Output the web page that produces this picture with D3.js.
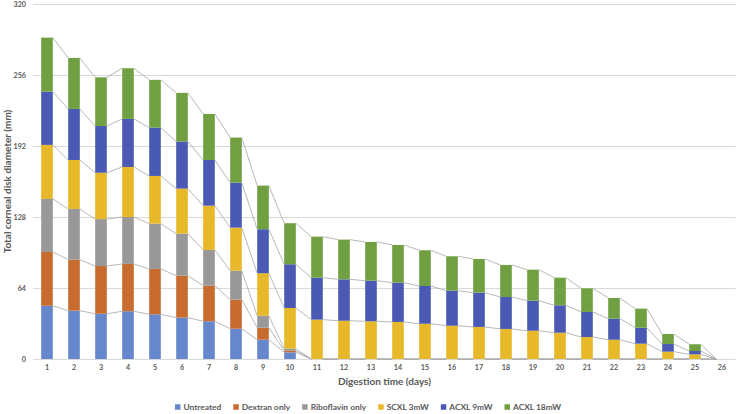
<!DOCTYPE html>
<html>
<head>
<meta charset="utf-8">
<script src="https://cdn.jsdelivr.net/npm/d3@7"></script>
<style>
  html, body { margin: 0; padding: 0; background: #fff; }
  svg { display: block; font-family: Lato, "Open Sans", sans-serif; }
</style>
</head>
<body>
<svg id="chart" width="738" height="414"></svg>
<script>
const days = ["1","2","3","4","5","6","7","8","9","10","11","12","13","14","15","16","17","18","19","20","21","22","23","24","25","26"];
const seriesNames = ["Untreated", "Dextran only", "Riboflavin only", "SCXL 3mW", "ACXL 9mW", "ACXL 18mW"];
const untreated = [48, 43.6, 40.8, 43, 40.3, 37.3, 34, 27.3, 17.4, 6, 0, 0, 0, 0, 0, 0, 0, 0, 0, 0, 0, 0, 0, 0, 0, 0];
const dextran = [48.5, 46, 43, 42.7, 40.9, 37.8, 32.1, 26.2, 10.8, 1.5, 0, 0, 0, 0, 0, 0, 0, 0, 0, 0, 0, 0, 0, 0, 0, 0];
const riboflavin = [47.8, 45.7, 42.3, 42.3, 40.8, 37.9, 32.2, 26.1, 10.8, 1.8, 0, 0, 0, 0, 0, 0, 0, 0, 0, 0, 0, 0, 0, 0, 0, 0];
const scxl3 = [48.7, 44.1, 41.8, 45.1, 43, 40.6, 39.9, 38.8, 38.3, 36.7, 35.5, 34.5, 34, 33.4, 31.8, 30, 28.9, 27.1, 25.5, 23.7, 19.8, 17.4, 13.8, 6.6, 4.2, 0];
const acxl9 = [48, 46, 42.1, 43.3, 43.6, 42.4, 41.2, 40.6, 39.7, 39.4, 37.8, 37.3, 36.6, 35.4, 34, 31.6, 30.9, 28.8, 27.1, 24.7, 22.6, 19, 14.4, 6.9, 3, 0];
const acxl18 = [48.7, 46, 43.9, 45.7, 43, 43.9, 41.5, 40.6, 39.3, 37, 37, 35.8, 34.9, 34, 32.2, 31, 30.4, 28.9, 27.9, 24.9, 21.3, 18.6, 17.2, 9, 6.1, 0];
const yTicks = [0, 64, 128, 192, 256, 320];
const xTitle = "Digestion time (days)";
const yTitle = "Total corneal disk diameter (mm)";

const colors = ["#6687CB", "#C76C2E", "#989898", "#E6B82A", "#4A5AB4", "#71A042"];
const seriesData = [untreated, dextran, riboflavin, scxl3, acxl9, acxl18];

const rows = days.map((d, i) => {
  const r = { day: d };
  seriesNames.forEach((s, k) => r[s] = seriesData[k][i]);
  return r;
});
const stacked = d3.stack().keys(seriesNames)(rows);

const svg = d3.select("#chart");
const pLeft = 33.5, pRight = 735.5, pTop = 4, pBottom = 359;

const x = d3.scaleBand().domain(days).range([pLeft, pRight]).paddingInner(0.57).paddingOuter(0.285);
const y = d3.scaleLinear().domain([0, 320]).range([pBottom, pTop]);

// gridlines
svg.append("g").selectAll("line").data(yTicks).join("line")
  .attr("x1", 33).attr("x2", pRight)
  .attr("y1", d => Math.round(y(d)) + 0.5).attr("y2", d => Math.round(y(d)) + 0.5)
  .attr("stroke", "#D9D9D9").attr("stroke-width", 1);

// y axis labels
const yAxis = d3.axisLeft(y).tickValues(yTicks).tickSize(0).tickPadding(0);
const gy = svg.append("g").attr("transform", "translate(26,0)").call(yAxis);
gy.select(".domain").remove();
gy.selectAll("text").attr("fill", "#595959").style("font-size", "7.2px").style("font-weight", "700")
  .style("font-family", "Lato, sans-serif");

// x axis labels
const xAxis = d3.axisBottom(x).tickSize(0).tickPadding(0);
const gx = svg.append("g").attr("transform", "translate(0,365)").call(xAxis);
gx.select(".domain").remove();
gx.selectAll("text").attr("fill", "#595959").style("font-size", "7.2px").style("font-weight", "700")
  .style("font-family", "Lato, sans-serif");

// bars
const bw = x.bandwidth();
svg.append("g").selectAll("g").data(stacked).join("g")
  .attr("fill", (d, k) => colors[k])
  .selectAll("rect").data(d => d).join("rect")
  .attr("x", d => x(d.data.day))
  .attr("y", d => y(d[1]))
  .attr("width", bw)
  .attr("height", d => Math.max(0, y(d[0]) - y(d[1])));

// series lines
const segs = [];
stacked.forEach(s => {
  for (let i = 0; i < days.length - 1; i++) {
    segs.push({ x1: x(days[i]) + bw, y1: y(s[i][1]), x2: x(days[i + 1]), y2: y(s[i + 1][1]) });
  }
});
svg.append("g").selectAll("line").data(segs).join("line")
  .attr("x1", d => d.x1).attr("y1", d => d.y1).attr("x2", d => d.x2).attr("y2", d => d.y2)
  .attr("stroke", "#A6A6A6").attr("stroke-width", 0.8);

// axis titles
svg.append("text").attr("x", (pLeft + pRight) / 2).attr("y", 385)
  .attr("text-anchor", "middle").attr("fill", "#595959")
  .style("font-size", "10px").style("font-weight", "700").text(xTitle);
svg.append("text").attr("transform", `translate(11,${(pTop + pBottom) / 2}) rotate(-90)`)
  .attr("text-anchor", "middle").attr("fill", "#595959")
  .style("font-size", "10px").style("font-weight", "700").text(yTitle);

// legend
const lg = svg.append("g");
const items = lg.selectAll("g").data(seriesNames).join("g");
items.append("rect").attr("width", 5.5).attr("height", 5.5).attr("y", -2.75).attr("fill", (d, k) => colors[k]);
items.append("text").attr("x", 8.5).attr("dy", "0.35em").attr("fill", "#595959")
  .style("font-size", "8.4px").style("font-weight", "700").text(d => d);
let cx = 0;
items.each(function () {
  const w = d3.select(this).select("text").node().getComputedTextLength();
  d3.select(this).attr("transform", `translate(${cx},0)`);
  cx += 8.5 + w + 12;
});
const total = cx - 12;
lg.attr("transform", `translate(${368 - total / 2},407)`);
</script>
</body>
</html>
